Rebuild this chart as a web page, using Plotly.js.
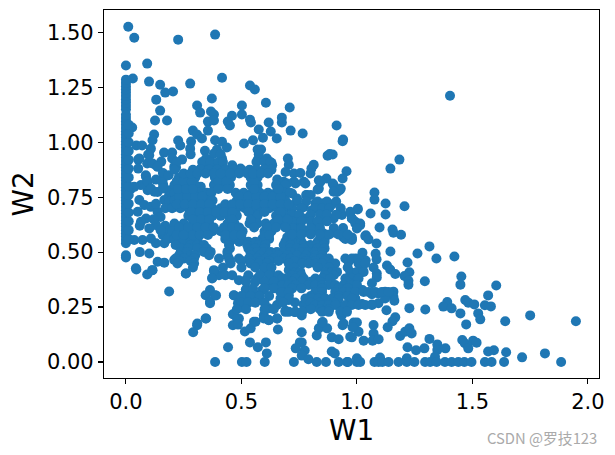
<!DOCTYPE html>
<html><head><meta charset="utf-8">
<script src="https://cdn.plot.ly/plotly-3.0.1.min.js"></script>
<style>html,body{margin:0;padding:0;background:#fff}#c{width:615px;height:455px}</style></head>
<body><div id="c"></div>
<script>
// Points on the W2 = 0 floor
const floorW1 = [.386,.502,.522,.601,.727,.826,.866,.921,.957,.961,1.0,1.014,1.076,1.094,1.11,1.137,1.18,1.216,1.249,1.295,1.317,1.345,1.381,1.41,1.439,1.465,1.496,1.554,1.583,1.637,1.884];
// Points on the W1 = 0 wall
const wallW2 = [.476,.486,.54,.555,.57,.585,.6,.615,.63,.645,.66,.675,.69,.705,.72,.735,.75,.765,.78,.795,.81,.825,.84,.855,.87,.885,.9,.915,.93,.945,.96,.975,.99,1.005,1.02,1.035,1.05,1.065,1.08,1.095,1.11,1.125,1.15,1.165,1.18,1.195,1.21,1.225,1.24,1.255,1.27,1.285,1.349];
const wall2W2 = [.56,.6,.64,.68,.72,.76,.8,.84,.88,.92,.96,1.0,1.04,1.08];
// Rows of the dense cloud, one W2 level with its W1 readings
const rowLevels = [.945,.91,.875,.84,.805,.77,.735,.70,.665,.63,.595,.56,
 .547,.532,.517,.501,.486,.471,.46,.448,.43,.41,.395,.38,.365,.35,.335,.319,.3,.289,.27,.259,.24,.228,
 .76,.73,.7,.67,.64,.61,.58,
 .7525,.7175,.6825,.6475,.6125,.5775,.8225,.7875,.8575];
const rowW1 = [
 [.28,.41,.575],
 [.22,.33,.365,.4,.42,.565,.6,.625],
 [.21,.29,.325,.36,.395,.43,.465,.5,.535,.565,.6,.63],
 [.23,.265,.30,.385,.42,.455,.54,.57],
 [.21,.245,.28,.30,.385,.42,.45,.54,.57,.65,.69],
 [.21,.245,.28,.315,.35,.37,.475,.51,.545,.58,.615,.65,.685,.71],
 [.21,.245,.28,.315,.35,.375,.48,.515,.55,.585,.62,.655,.69],
 [.2,.235,.27,.305,.34,.375,.41,.445,.48,.515,.55,.585,.62,.655,.69],
 [.27,.305,.34,.375,.41,.445,.48,.55,.57,.65,.69],
 [.21,.25,.29,.325,.36,.44,.47,.535,.57,.605,.64,.675,.71],
 [.2,.235,.27,.305,.34,.375,.41,.445,.48,.505,.6,.63,.71],
 [.21,.24,.28,.31,.43,.465,.5,.59,.62,.71,.741,.84,.86,.95,.978],
 [.25,.28,.31,.45,.49,.53,.56,.6,.69,.72,.76,.83,.86],
 [.215,.28,.309,.338,.446,.525,.575,.604,.683,.712,.77,.798,.827,.856],
 [.24,.27,.31,.35,.45,.53,.56,.6,.71,.74,.77,.83,.86],
 [.237,.266,.338,.367,.439,.539,.568,.597,.626,.654,.683,.712,.763,.791,.82,.849],
 [.23,.28,.3,.36,.44,.54,.58,.62,.66,.7,.74,.78,.82,.85],
 [.215,.252,.295,.403,.446,.489,.532,.568,.604,.64,.683,.712,.77,.813,.842,.878,.95,.978,1.007],
 [.23,.28,.45,.5,.54,.58,.62,.66,.73,.78,.82,.86],
 [.223,.295,.453,.539,.575,.611,.705,.763,.791,.82,.849,.892,.906,1.007,1.036],
 [.29,.42,.5,.56,.6,.63,.73,.83,.88,.96],
 [.734,.755,.863,.892,.914,.971,1.0,1.029],
 [.43,.46,.53,.58,.62,.66,.72,.76,.86,.9],
 [.676,.705,.734,.77,.82,.849,.885,.95,.978,1.007],
 [.52,.56,.6,.64,.72,.76,.8,.84,.96],
 [.676,.705,.734,.791,.82,.849,.878,.906,.942,.971,1.0],
 [.55,.6,.64,.72,.76,.85,.92,.96],
 [.676,.705,.82,.849,.906,.942,.971,.993,1.029,1.05,1.079,1.108,1.137],
 [.5,.54,.58,.62,.8,.84,.92,.96],
 [.705,.777,.806,.834,.863,.892,.921,.978],
 [.5,.53,.56,.6,.68,.8,.84,.9],
 [.82,.849,.878,.906,.95,.978,1.007,1.036,1.065],
 [.48,.52,.6,.64,.8,.84,.88],
 [.705,.734,.763,.849,.878,.928,.957],
 [.78,.8],
 [.74,.78,.83,.87,.91],
 [.72,.76,.82,.85,.88,.93],
 [.72,.75,.8,.84,.87,.91],
 [.72,.76,.8,.83,.87],
 [.72,.76,.8,.84,.9,.94],
 [.72,.76,.8,.84,.88,.92,.96],
 [.23,.265,.3,.33,.49,.53,.565,.6,.635,.67],
 [.22,.255,.29,.325,.36,.43,.46,.495,.53,.565,.6,.635,.67,.705],
 [.285,.32,.355,.39,.425,.46,.53,.6,.67],
 [.29,.325,.36,.46,.54,.66,.7],
 [.23,.27,.31,.345,.38,.425,.46,.49,.555,.615,.65,.69],
 [.22,.25,.29,.32,.355,.43,.47,.5,.6,.62],
 [.22,.25,.285,.4,.435,.555],
 [.225,.26,.29,.4,.44,.555,.66],
 [.25,.28,.31,.345,.38,.41,.45,.49,.525,.55,.585,.615]
];
// Individually readable points, as [W1, W2]
const looseUpper = [[.01,1.526],[.036,1.476],[.226,1.467],[.386,1.49],[.092,1.358],[.03,1.29],[.10,1.276],[.148,1.262],[.278,1.267],[.416,1.294],[.17,1.226],[.204,1.231],[.537,1.258],[.558,1.24],[.131,1.194],[.372,1.199],[.606,1.18],[.308,1.167],[.502,1.167],[.709,1.158],[.148,1.144],[.321,1.135],[.368,1.14],[.381,1.126],[.459,1.121],[.502,1.126],[.126,1.099],[.178,1.099],[.355,1.094],[.381,1.099],[.441,1.094],[.45,1.076],[.537,1.103],[.541,1.09],[.618,1.09],[.675,1.112],[.675,1.09],[.912,1.076],[.575,1.058],[.627,1.049],[.713,1.053],[.765,1.04],[.29,1.053],[.355,1.053],[.027,1.067],[.122,1.035],[.308,1.035],[.329,1.017],[.593,1.021],[.653,1.017],[.94,1.012],[.938,1.005],[1.403,1.212],[.115,1.009],[.045,.985],[.07,.985],[.226,1.008],[.235,.985],[.282,1.003],[.278,.971],[.386,1.009],[.416,1.002],[.437,.976],[.511,.994],[.55,1.009],[.108,.971],[.096,.944],[.165,.953],[.2,.953],[.2,.926],[.342,.961],[.394,.967],[.57,.967],[.585,.967],[.571,.921],[.61,.926],[.63,.906],[.701,.926],[.705,.898],[.813,.898],[.803,.88],[.873,.939],[.895,.944],[.882,.946],[.955,.868],[.938,.835],[.053,.921],[.092,.903],[.131,.894],[.153,.912],[.243,.921],[.217,.885],[.347,.926],[.416,.926],[.364,.921],[.381,.949],[.053,.88],[.086,.85],[.158,.832],[.161,.808],[.23,.839],[.259,.839],[.295,.868],[.324,.88],[.347,.895],[.381,.898],[.403,.88],[.46,.895],[.496,.88],[.54,.873],[.597,.873],[.633,.895],[.691,.865],[.727,.858],[.755,.86],[.799,.858],[.835,.827],[.868,.835],[.655,.83],[.683,.82],[.727,.82],[.77,.82],[.899,.805],[.93,.789],[.835,.789],[.914,.774],[.561,.835],[.547,.808],[.439,.82],[.381,.805],[.324,.797],[.288,.82],[.216,.789],[.252,.797],[.187,.761],[1.145,.88],[1.184,.921],[1.076,.771],[.92,.782],[.777,.812],[.734,.812],[.698,.812],[.83,.785],[.842,.82],[.895,.812],[.925,.782],[.899,.775],[.784,.76],[.741,.744],[.683,.767],[.719,.767],[.892,.717],[.856,.722],[.82,.722],[.77,.706],[.806,.691],[.777,.653],[.741,.638],[.691,.646],[.712,.623],[.748,.608],[.806,.615],[.827,.6],[.856,.585],[.906,.588],[.942,.567],[.978,.567],[1.014,.623],[.993,.638],[.978,.653],[.853,.646],[.899,.653],[.935,.669],[1.003,.694],[.971,.684],[.791,.593],[.741,.578],[.698,.567],[1.036,.573]];
const looseLeft = [[.058,.926],[.101,.941],[.058,.737],[.08,.714],[.108,.706],[.137,.684],[.051,.684],[.087,.653],[.065,.638],[.13,.623],[.101,.608],[.072,.555],[.036,.555],[.108,.562],[.159,.578],[.166,.54],[.202,.562],[.101,.494],[.137,.456],[.166,.452],[.043,.426],[.115,.418],[.209,.464],[.087,.843],[.087,.812],[.094,.782],[.123,.775],[.159,.828],[.115,.903],[.137,.888],[.187,.782],[.166,.737],[.187,.729],[.209,.706],[.209,.888],[.045,.421],[.092,.398],[.114,.418],[.26,.403],[.187,.321],[.065,.805],[.094,.82],[.108,.789],[.137,.774],[.022,.789],[.036,.797],[.15,.66],[.17,.62],[.13,.54],[.19,.6],[.06,.5],[.13,.72],[.16,.79],[.17,.7],[.12,.65],[.15,.6],[.18,.56],[.16,.86],[.185,.85],[.13,.83],[.06,.62]];
const looseLower = [[.259,.403],[.381,.418],[.374,.383],[.403,.395],[.489,.372],[.518,.372],[.568,.38],[.597,.41],[.626,.403],[.705,.418],[.364,.327],[.345,.304],[.385,.304],[.364,.274],[.345,.198],[.522,.327],[.467,.304],[.489,.259],[.518,.289],[.554,.312],[.59,.327],[.626,.35],[.654,.365],[.683,.38],[.669,.319],[.69,.335],[.654,.259],[.69,.228],[.618,.244],[.597,.213],[.654,.198],[.467,.216],[.489,.198],[.309,.175],[.669,.289],[.705,.282],[.705,.35],[.705,.304],[.554,.183],[.618,.19],[.381,.414],[.373,.38],[.39,.303],[.364,.267],[.347,.198],[.308,.167],[.291,.135],[.442,.067],[.468,.303],[.485,.267],[.502,.248],[.519,.33],[.463,.217],[.481,.198],[.463,.167],[.485,.17],[.515,.139],[.54,.153],[.561,.183],[.597,.198],[.658,.148],[.619,.191],[.655,.198],[.612,.244],[.537,.089],[.571,.067],[.606,.089],[.61,.039],[.761,.135],[.753,.089],[.761,.089],[.735,.062],[.774,.052],[.761,.029],[.79,.012],[.891,.048],[.904,.039],[.826,.121],[.835,.153],[.852,.182],[.871,.153],[.891,.112],[.921,.103],[.938,.167],[.934,.212],[.971,.115],[.732,.271],[.77,.262],[.761,.212],[.731,.227],[.691,.233],[.82,.252],[.863,.248],[.921,.259],[.849,.18],[.942,.175],[.986,.18]];
const looseRight = [[1.076,.739],[1.124,.721],[1.206,.709],[1.004,.697],[1.059,.676],[1.124,.671],[.971,.679],[.978,.653],[.993,.63],[1.014,.63],[1.0,.608],[1.098,.612],[1.154,.603],[1.158,.588],[1.191,.579],[1.039,.577],[1.05,.558],[.978,.555],[.95,.57],[1.085,.539],[1.314,.526],[1.262,.494],[1.145,.503],[1.024,.497],[1.081,.492],[1.344,.471],[1.422,.48],[1.085,.467],[1.219,.453],[1.038,.462],[.993,.471],[.964,.456],[1.13,.439],[1.144,.421],[1.166,.4],[1.072,.43],[1.022,.418],[1.007,.403],[.993,.385],[.978,.37],[1.086,.403],[1.086,.385],[1.065,.358],[1.227,.408],[1.206,.391],[1.223,.37],[1.223,.352],[1.294,.367],[1.452,.389],[1.448,.352],[1.603,.348],[1.568,.303],[1.024,.327],[.964,.335],[.95,.312],[1.122,.32],[1.158,.32],[1.093,.312],[1.065,.308],[1.158,.297],[1.162,.279],[.993,.289],[.971,.274],[.957,.252],[1.022,.264],[1.065,.262],[1.093,.267],[1.122,.289],[1.227,.245],[1.296,.239],[1.391,.273],[1.374,.252],[1.41,.244],[1.469,.282],[1.482,.27],[1.508,.262],[1.554,.258],[1.58,.253],[1.448,.221],[1.525,.221],[1.534,.194],[1.473,.171],[1.642,.185],[1.75,.212],[1.948,.185],[1.128,.235],[1.166,.203],[1.154,.185],[1.133,.158],[1.0,.18],[1.007,.138],[.981,.158],[1.072,.168],[1.072,.13],[1.187,.118],[1.209,.138],[1.227,.153],[1.237,.13],[.978,.112],[1.029,.097],[1.068,.097],[1.094,.103],[1.314,.105],[1.456,.1],[1.467,.085],[1.482,.062],[1.503,.097],[1.518,.088],[1.219,.067],[1.256,.053],[1.292,.062],[1.348,.08],[1.348,.055],[1.383,.062],[1.568,.048],[1.593,.053],[1.646,.044],[1.715,.021],[1.814,.039],[1.338,.024],[1.1,.02],[1.0,.017],[1.216,.017]];

const xTicks = [0,0.5,1,1.5,2];
const xLabels = ['0.0','0.5','1.0','1.5','2.0'];
const yTicks = [0,0.25,0.5,0.75,1,1.25,1.5];
const yLabels = ['0.00','0.25','0.50','0.75','1.00','1.25','1.50'];

const pairs = [].concat(looseUpper, looseLeft, looseLower, looseRight);
const x = pairs.map(p=>p[0]), y = pairs.map(p=>p[1]);
floorW1.forEach(v=>{x.push(v);y.push(0);});
wallW2.forEach(v=>{x.push(0);y.push(v);});
wall2W2.forEach(v=>{x.push(0.012);y.push(v);});
rowLevels.forEach((lv,i)=>rowW1[i].forEach(v=>{x.push(v);y.push(lv);}));

const font = 'DejaVu Sans, sans-serif';
const axis = {showgrid:false,zeroline:false,showline:true,mirror:true,linecolor:'#000',linewidth:1.1,
  ticks:'outside',ticklen:5,tickwidth:1.1,tickcolor:'#000',tickfont:{family:font,size:21,color:'#000'}};
const plotW = 615-103.5-15.5, plotH = 455-9.5-77;
Plotly.newPlot('c',[{type:'scatter',mode:'markers',x:x,y:y,cliponaxis:false,
  marker:{color:'#1f77b4',size:10,line:{width:0}}}],{
  width:615,height:455,paper_bgcolor:'#fff',plot_bgcolor:'#fff',showlegend:false,
  margin:{l:103.5,r:15.5,t:9.5,b:77,pad:0},
  xaxis:Object.assign({},axis,{range:[-0.095,2.048],tickmode:'array',tickvals:xTicks,ticktext:xLabels,
    title:{text:'W1',font:{family:font,size:27.8,color:'#000'},standoff:7}}),
  yaxis:Object.assign({},axis,{range:[-0.073,1.602],tickmode:'array',tickvals:yTicks,ticktext:yLabels,
    title:{text:'W2',font:{family:font,size:27.8,color:'#000'},standoff:5}}),
  annotations:[{xref:'paper',yref:'paper',x:(600-103.5)/plotW,y:-(438-378)/plotH,xanchor:'right',yanchor:'middle',showarrow:false,
    text:'CSDN @罗技123',font:{family:'Noto Sans CJK SC, DejaVu Sans, sans-serif',size:14.8,color:'#aaaaaa'}}]
},{displayModeBar:false,staticPlot:true});
</script></body></html>
